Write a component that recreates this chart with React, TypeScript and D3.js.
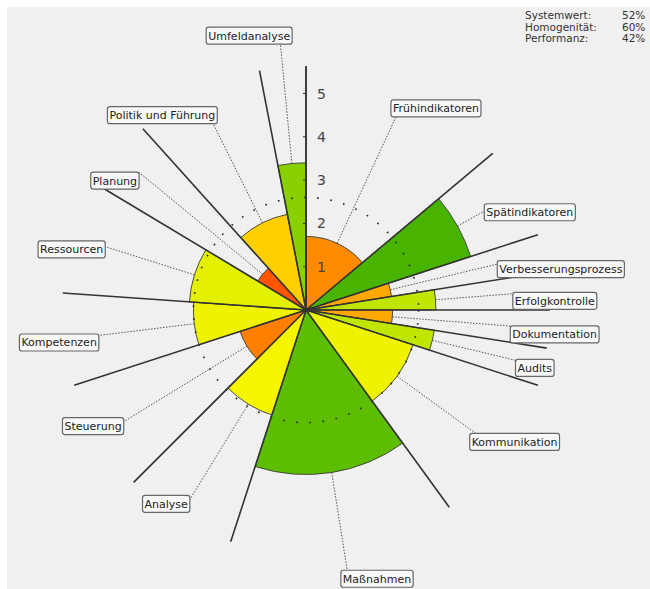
import React, { useRef, useEffect } from 'react';
import * as d3 from 'd3';

const CATEGORIES = [
  'Frühindikatoren', 'Spätindikatoren', 'Verbesserungsprozess', 'Erfolgkontrolle',
  'Dokumentation', 'Audits', 'Kommunikation', 'Maßnahmen', 'Analyse', 'Steuerung',
  'Kompetenzen', 'Ressourcen', 'Planung', 'Politik und Führung', 'Umfeldanalyse',
];
const WEIGHTS = [50, 22, 9, 9, 9, 9, 36, 54, 27, 27, 22, 27, 17, 31, 11];
const VALUES = [1.7, 4.0, 2.0, 3.0, 2.0, 3.0, 2.6, 3.8, 2.55, 1.6, 2.6, 2.7, 1.3, 2.25, 3.4];
const AXIS_TICKS = [1, 2, 3, 4, 5];
const SUMMARY_LABELS = ['Systemwert:', 'Homogenität:', 'Performanz:'];
const SUMMARY_VALUES = [52, 60, 42];
const SYSTEM_VALUE = 0.52;

// label placement (polar: degrees clockwise from north, radius in value units)
const LABEL_ANGLES = [32.8, 66.4, 80.9, 87.9, 95.6, 104.2, 122.3, 165.2, 215.8, 241.4, 262.5, 284.5, 304.1, 323.6, 348.3];
const LABEL_RADII = [5.54, 5.64, 5.96, 5.75, 5.77, 5.45, 5.70, 6.42, 5.52, 5.60, 5.75, 5.59, 5.33, 5.59, 6.47];

const W = 650, H = 589;
const CX = 306, CY = 310;
const FONT = '"DejaVu Sans", Verdana, sans-serif';

export default function App() {
  const ref = useRef<SVGSVGElement | null>(null);

  useEffect(() => {
    const svg = d3.select(ref.current);
    svg.selectAll('*').remove();

    svg.append('rect').attr('width', W).attr('height', H).attr('fill', '#ffffff');
    svg.append('rect').attr('x', 7).attr('y', 7).attr('width', W - 7).attr('height', H - 7).attr('fill', '#f0f0f0');

    const r = d3.scaleLinear().domain([0, 5]).range([0, 216.5]);
    const total = d3.sum(WEIGHTS);
    const ang = d3.scaleLinear().domain([0, total]).range([0, 2 * Math.PI]);
    const color = d3.scaleLinear<string>()
      .domain([1.0, 1.6, 2.0, 2.25, 2.55, 3.0, 3.4, 4.0])
      .range(['#ff2a00', '#ff8000', '#ffa800', '#ffd000', '#f5f500', '#c0e600', '#88d000', '#48b400'])
      .interpolate(d3.interpolateRgb);

    const cum = [0, ...d3.cumsum(WEIGHTS)];
    const segs = CATEGORIES.map((name, i) => ({
      name,
      value: VALUES[i],
      start: ang(cum[i]),
      end: ang(cum[i + 1]),
    }));

    const g = svg.append('g').attr('transform', `translate(${CX},${CY})`);
    const arc = d3.arc<any>()
      .innerRadius(0)
      .outerRadius((d) => r(d.value))
      .startAngle((d) => d.start)
      .endAngle((d) => d.end);

    g.selectAll('path.seg').data(segs).enter().append('path')
      .attr('class', 'seg')
      .attr('d', arc)
      .attr('fill', (d) => color(d.value))
      .attr('stroke', '#3a3a3a')
      .attr('stroke-width', 0.9);

    // system value dotted circle
    g.append('circle')
      .attr('r', r(SYSTEM_VALUE * 5))
      .attr('fill', 'none')
      .attr('stroke', '#333')
      .attr('stroke-width', 1.7)
      .attr('stroke-dasharray', '1.7,11.5');

    const px = (a: number, rad: number) => [rad * Math.sin(a), -rad * Math.cos(a)];

    // long boundary lines
    const lineR = r(5.63);
    g.selectAll('line.bound').data(segs).enter().append('line')
      .attr('class', 'bound')
      .attr('x1', 0).attr('y1', 0)
      .attr('x2', (d) => px(d.start, lineR)[0])
      .attr('y2', (d) => px(d.start, lineR)[1])
      .attr('stroke', '#333')
      .attr('stroke-width', 1.6);

    // axis
    g.append('line').attr('x1', 0).attr('y1', 0).attr('x2', 0).attr('y2', -r(5.63))
      .attr('stroke', '#333').attr('stroke-width', 1.4);
    g.selectAll('line.tick').data(AXIS_TICKS).enter().append('line')
      .attr('class', 'tick')
      .attr('x1', -3).attr('x2', 0)
      .attr('y1', (d) => -r(d)).attr('y2', (d) => -r(d))
      .attr('stroke', '#333').attr('stroke-width', 1);
    g.selectAll('text.tick').data(AXIS_TICKS).enter().append('text')
      .attr('class', 'tick')
      .attr('x', 11)
      .attr('y', (d) => -r(d) + 5)
      .attr('font-family', FONT)
      .attr('font-size', 14)
      .attr('fill', '#444')
      .text((d) => String(d));

    // labels + leaders
    const leaders = g.append('g');
    const labels = g.append('g');
    segs.forEach((s, i) => {
      const la = (LABEL_ANGLES[i] * Math.PI) / 180;
      const [lx, ly] = px(la, r(LABEL_RADII[i]));
      const t = labels.append('text')
        .attr('x', lx).attr('y', ly + 4)
        .attr('text-anchor', 'middle')
        .attr('font-family', FONT)
        .attr('font-size', 11)
        .attr('fill', '#222')
        .text(s.name);
      const tw = (t.node() as SVGTextElement).getComputedTextLength();
      const bw = tw + 4, bh = 17;
      const x0 = lx - bw / 2, y0 = ly - bh / 2, x1 = lx + bw / 2, y1 = ly + bh / 2;
      labels.insert('rect', 'text:last-child')
        .attr('x', x0).attr('y', y0).attr('width', bw).attr('height', bh)
        .attr('rx', 2.5)
        .attr('fill', '#f8f8f8')
        .attr('stroke', '#666')
        .attr('stroke-width', 1.2);
      t.raise();

      // radial leader from segment edge to box
      const mid = (s.start + s.end) / 2;
      const dx = Math.sin(mid), dy = -Math.cos(mid);
      const sx = r(s.value) * dx, sy = r(s.value) * dy;
      let tmin = 0, tmax = Infinity;
      const slab = (p: number, d: number, lo: number, hi: number) => {
        if (Math.abs(d) < 1e-9) {
          if (p < lo || p > hi) { tmin = Infinity; }
          return;
        }
        let ta = (lo - p) / d, tb = (hi - p) / d;
        if (ta > tb) [ta, tb] = [tb, ta];
        tmin = Math.max(tmin, ta);
        tmax = Math.min(tmax, tb);
      };
      slab(sx, dx, x0, x1);
      slab(sy, dy, y0, y1);
      let ex: number, ey: number;
      if (tmin <= tmax && isFinite(tmin)) {
        ex = sx + dx * tmin; ey = sy + dy * tmin;
      } else {
        ex = lx; ey = ly;
      }
      leaders.append('line')
        .attr('x1', sx).attr('y1', sy).attr('x2', ex).attr('y2', ey)
        .attr('stroke', '#555')
        .attr('stroke-width', 1)
        .attr('stroke-dasharray', '1.5,1.5');
    });

    // summary
    const sg = svg.append('g').attr('font-family', FONT).attr('font-size', 10.5).attr('fill', '#333');
    SUMMARY_LABELS.forEach((lab, i) => {
      sg.append('text').attr('x', 525).attr('y', 19 + i * 11.6).text(lab);
      sg.append('text').attr('x', 622).attr('y', 19 + i * 11.6).text(`${SUMMARY_VALUES[i]}%`);
    });
  }, []);

  return (
    <svg
      ref={ref}
      width={W}
      height={H}
      style={{ position: 'absolute', left: 0, top: 0, display: 'block' }}
    />
  );
}
